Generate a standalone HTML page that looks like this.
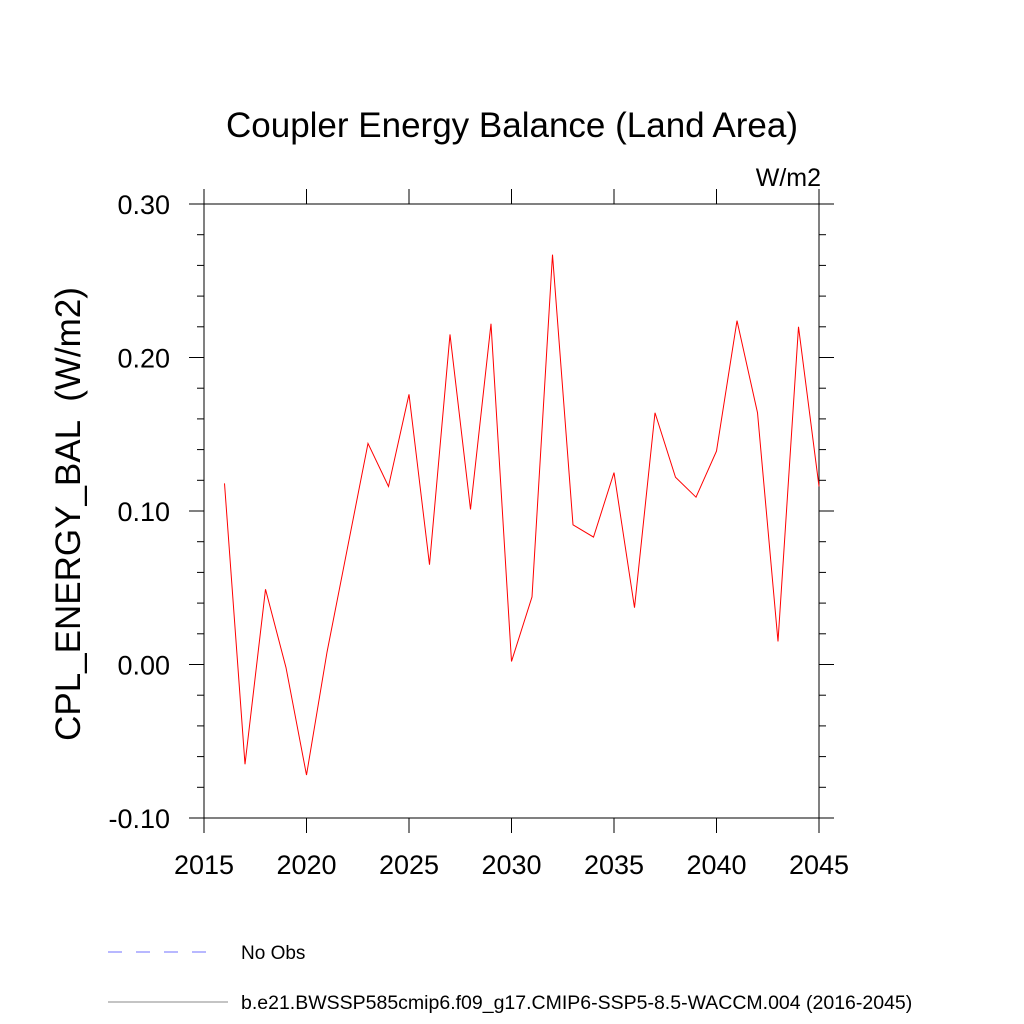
<!DOCTYPE html>
<html><head><meta charset="utf-8"><style>body{margin:0;background:#fff}svg{display:block}</style></head>
<body>
<svg id="chart" width="1024" height="1024" xmlns="http://www.w3.org/2000/svg" font-family="Liberation Sans, sans-serif">
<rect width="1024" height="1024" fill="#fff"/>
<text x="512" y="137" font-size="35" text-anchor="middle">Coupler Energy Balance (Land Area)</text>
<text x="821" y="186" font-size="25" text-anchor="end">W/m2</text>
<text transform="translate(80,514) rotate(-90)" font-size="35" text-anchor="middle" xml:space="preserve">CPL_ENERGY_BAL  (W/m2)</text>
<g id="axes"></g>
<g id="series"></g>
<g>
<line x1="108" y1="952" x2="216" y2="952" stroke="#7070ff" stroke-width="1" stroke-dasharray="14,14"/>
<text x="241" y="959" font-size="19">No Obs</text>
<line x1="108" y1="1002" x2="228" y2="1002" stroke="#888" stroke-width="1"/>
<text x="241" y="1009" font-size="19.5">b.e21.BWSSP585cmip6.f09_g17.CMIP6-SSP5-8.5-WACCM.004 (2016-2045)</text>
</g>
</svg>
<script>
const years=[2016,2017,2018,2019,2020,2021,2022,2023,2024,2025,2026,2027,2028,2029,2030,2031,2032,2033,2034,2035,2036,2037,2038,2039,2040,2041,2042,2043,2044,2045];
const values=[0.118,-0.065,0.049,-0.002,-0.072,0.008,0.076,0.144,0.116,0.176,0.065,0.215,0.101,0.222,0.002,0.044,0.267,0.091,0.083,0.125,0.037,0.164,0.122,0.109,0.139,0.224,0.164,0.015,0.220,0.116];
const xTicks=[2015,2020,2025,2030,2035,2040,2045];
const yTicks=[-0.1,0,0.1,0.2,0.3];
const yTickLabels=["-0.10","0.00","0.10","0.20","0.30"];
const NS="http://www.w3.org/2000/svg";
const L=204,R=819,T=204,B=818;
const xs=v=>L+(v-2015)/30*(R-L);
const ys=v=>B-(v+0.1)/0.4*(B-T);
function mk(tag,attrs,parent){const e=document.createElementNS(NS,tag);for(const k in attrs)e.setAttribute(k,attrs[k]);parent.appendChild(e);return e;}
const ax=document.getElementById('axes');
const fr=mk('rect',{x:L,y:T,width:R-L,height:B-T,fill:'none',stroke:'#000','stroke-width':1},ax);


xTicks.forEach(t=>{const x=xs(t);
mk('line',{x1:x,y1:B,x2:x,y2:B+15,stroke:'#000'},ax);
mk('line',{x1:x,y1:T,x2:x,y2:T-15,stroke:'#000'},ax);
const tx=mk('text',{x:x,y:B+56,'font-size':27,'text-anchor':'middle'},ax);tx.textContent=t;

});
yTicks.forEach((t,i)=>{const y=ys(t);
mk('line',{x1:L-15,y1:y,x2:L,y2:y,stroke:'#000'},ax);
mk('line',{x1:R,y1:y,x2:R+15,y2:y,stroke:'#000'},ax);
const tx=mk('text',{x:L-34,y:y+10,'font-size':27,'text-anchor':'end'},ax);tx.textContent=yTickLabels[i];

});
for(let v=-0.1;v<0.3001;v+=0.02){const y=ys(v);
mk('line',{x1:L-7,y1:y,x2:L,y2:y,stroke:'#000'},ax);
mk('line',{x1:R,y1:y,x2:R+7,y2:y,stroke:'#000'},ax);}
const sr=document.getElementById('series');
const pl=mk('polyline',{points:years.map((y,i)=>xs(y)+','+ys(values[i])).join(' '),fill:'none',stroke:'#ff0000','stroke-width':1},sr);


</script>
</body></html>
